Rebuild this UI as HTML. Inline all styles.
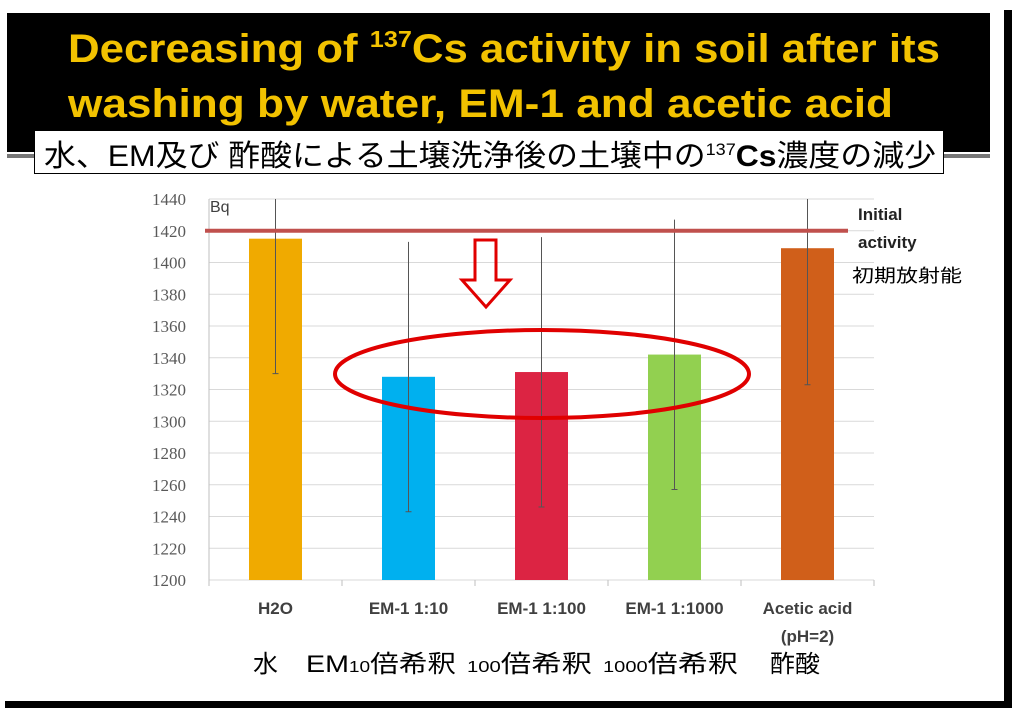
<!DOCTYPE html>
<html><head><meta charset="utf-8"><style>
body{margin:0;width:1016px;height:710px;background:#fff;overflow:hidden;position:relative;font-family:"Liberation Sans","Noto Sans CJK JP",sans-serif}
.abs{position:absolute}
</style></head><body>
<div class="abs" style="left:7px;top:13px;width:983px;height:139px;background:#000"></div>
<div class="abs" style="left:7px;top:154px;width:30px;height:4px;background:#777"></div>
<div class="abs" style="left:944px;top:154px;width:46px;height:4px;background:#777"></div>
<div class="abs" style="left:34px;top:130px;width:910px;height:44px;background:#fff;border:1px solid #000;box-sizing:border-box"></div>
<div class="abs" style="left:1004px;top:10px;width:8px;height:698px;background:#000"></div>
<div class="abs" style="left:5px;top:701px;width:1007px;height:7px;background:#000"></div>
<svg class="abs" style="left:0;top:0" width="1016" height="710">
<text x="68" y="62" font-size="40" font-weight="bold" fill="#f2c200" textLength="872" lengthAdjust="spacingAndGlyphs">Decreasing of <tspan font-size="23" dy="-15">137</tspan><tspan dy="15">Cs activity in soil after its</tspan></text>
<text x="68" y="117" font-size="40" font-weight="bold" fill="#f2c200" textLength="825" lengthAdjust="spacingAndGlyphs">washing by water, EM-1 and acetic acid</text>
<text x="44" y="166" font-size="30" fill="#000" textLength="892" lengthAdjust="spacingAndGlyphs" font-family="Liberation Sans, Noto Sans CJK JP, sans-serif">水、EM及び 酢酸による土壌洗浄後の土壌中の<tspan font-size="17" dy="-11">137</tspan><tspan dy="11" font-weight="bold">Cs</tspan>濃度の減少</text>
</svg>
<svg class="abs" style="left:0;top:0" width="1016" height="710" id="chart"></svg>
<script>
const categories=["H2O","EM-1 1:10","EM-1 1:100","EM-1 1:1000","Acetic acid"];
const values=[1415,1328,1331,1342,1409];
const errLow=[1330,1243,1246,1257,1323];
const errHigh=[1445,1413,1416,1427,1445];
const colors=["#f0aa00","#00b0ef","#dc2443","#92d050","#d05f1a"];
const yTicks=[1200,1220,1240,1260,1280,1300,1320,1340,1360,1380,1400,1420,1440];
const initialActivity=1420;
const NS="http://www.w3.org/2000/svg";
const svg=document.getElementById('chart');
const x0=209,cw=133,yMin=1200,yMax=1440,yTop=199,yBot=580;
const y=v=>yBot-(v-yMin)/(yMax-yMin)*(yBot-yTop);
const cx=i=>x0+cw*i+cw/2;
function mk(t,a){const e=document.createElementNS(NS,t);for(const k in a)e.setAttribute(k,a[k]);svg.appendChild(e);return e;}
yTicks.forEach(v=>{
 const g=mk('line',{x1:x0,x2:x0+cw*5,y1:y(v),y2:y(v),stroke:'#d9d9d9','stroke-width':1});
 
 
 const t=mk('text',{x:186,y:y(v)+6,'text-anchor':'end','font-size':17,fill:'#595959','font-family':'Liberation Serif, serif'});
 t.textContent=v;
 
 
});
mk('line',{x1:x0,x2:x0,y1:yTop,y2:yBot+4,stroke:'#bfbfbf'});
for(let i=0;i<=5;i++){mk('line',{x1:x0+cw*i,x2:x0+cw*i,y1:yBot,y2:yBot+6,stroke:'#bfbfbf'});}
categories.forEach((c,i)=>{
 const b=mk('rect',{x:cx(i)-26.5,y:y(values[i]),width:53,height:yBot-y(values[i]),fill:colors[i]});
 
 
 const e=mk('line',{x1:cx(i),x2:cx(i),y1:Math.max(y(errHigh[i]),yTop),y2:y(errLow[i]),stroke:'#555','stroke-width':1});
 
 
 mk('line',{x1:cx(i)-3,x2:cx(i)+3,y1:y(errLow[i]),y2:y(errLow[i]),stroke:'#555'});
});
categories.forEach((l,i)=>{
 const t=mk('text',{x:cx(i),y:614,'text-anchor':'middle','font-size':17,'font-weight':'bold',fill:'#404040'});
 t.textContent=l;
 
 
});
const ph=mk('text',{x:cx(4),y:642,'text-anchor':'middle','font-size':17,'font-weight':'bold',fill:'#404040'});ph.textContent="(pH=2)";
const il=mk('line',{x1:205,x2:848,y1:y(initialActivity),y2:y(initialActivity),stroke:'#c0504d','stroke-width':4});


</script>
<svg class="abs" style="left:0;top:0" width="1016" height="710">
<text x="210" y="212" font-size="16" fill="#404040">Bq</text>
<text x="858" y="220" font-size="17" font-weight="bold" fill="#222">Initial</text>
<text x="858" y="248" font-size="17" font-weight="bold" fill="#222">activity</text>
<text x="852" y="282" font-size="18" fill="#000" textLength="110" lengthAdjust="spacingAndGlyphs" font-family="Noto Sans CJK JP, sans-serif">初期放射能</text>
<polygon points="475,240 496,240 496,280 510,280 486,307 462,280 475,280" fill="none" stroke="#e00000" stroke-width="3"/>
<ellipse cx="542" cy="374" rx="207" ry="44" fill="none" stroke="#e00000" stroke-width="4"/>
<g font-size="24" fill="#000" font-family="Liberation Sans, Noto Sans CJK JP, sans-serif">
<text x="253" y="672" textLength="25" lengthAdjust="spacingAndGlyphs">水</text>
<text x="306" y="672" textLength="150" lengthAdjust="spacingAndGlyphs">EM<tspan font-size="16">10</tspan>倍希釈</text>
<text x="467" y="672" textLength="125" lengthAdjust="spacingAndGlyphs"><tspan font-size="16">100</tspan>倍希釈</text>
<text x="603" y="672" textLength="135" lengthAdjust="spacingAndGlyphs"><tspan font-size="16">1000</tspan>倍希釈</text>
<text x="770" y="672" textLength="50" lengthAdjust="spacingAndGlyphs">酢酸</text>
</g>
</svg>
</body></html>
